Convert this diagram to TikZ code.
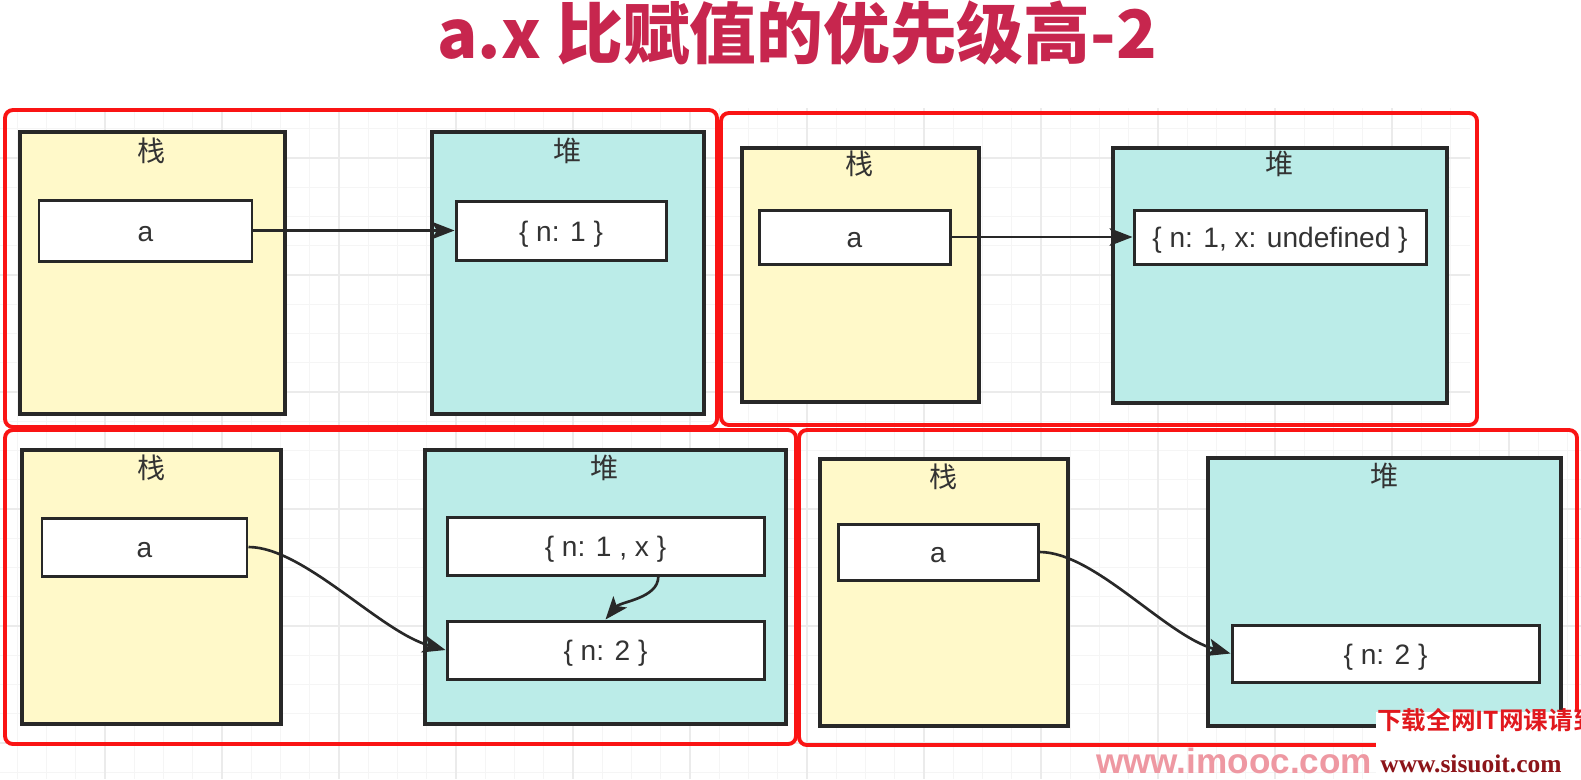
\documentclass[tikz,border=0pt]{standalone}
\usepackage{fontspec}
\setmainfont{Liberation Sans}
\newfontfamily\cjkfont{Noto Sans CJK SC}
\newfontfamily\cjkbold{Noto Sans CJK SC Bold}
\newfontfamily\cjkblack{Noto Sans CJK SC Black}
\newfontfamily\markserif{Liberation Serif}
\usepackage{tikz}
\usetikzlibrary{arrows.meta, fit}
\definecolor{titlered}{RGB}{199, 38, 78}
\definecolor{panelred}{RGB}{250, 20, 20}
\definecolor{boxedge}{RGB}{40, 40, 40}
\definecolor{textgray}{RGB}{51, 51, 51}
\definecolor{stackfill}{RGB}{255, 249, 201}
\definecolor{heapfill}{RGB}{187, 236, 232}
\definecolor{gridminor}{RGB}{245, 245, 245}
\definecolor{gridmajor}{RGB}{235, 235, 235}
\definecolor{markred}{RGB}{225, 25, 30}
\definecolor{markdark}{RGB}{140, 20, 25}
\definecolor{imoocpink}{RGB}{238, 152, 162}

\begin{document}
\begin{tikzpicture}[x=0.02cm, y=-0.02cm,
  panel/.style={draw=panelred, line width=2.2pt, rounded corners=4.5pt},
  stackbox/.style={draw=boxedge, fill=stackfill, line width=1.8pt, inner sep=0pt},
  heapbox/.style={draw=boxedge, fill=heapfill, line width=1.8pt, inner sep=0pt},
  valbox/.style={draw=boxedge, fill=white, line width=1.7pt, inner sep=0pt},
  valtext/.style={text=textgray, yshift=-2pt, font=\fontsize{16}{19}\selectfont},
  areatitle/.style={text=textgray, font=\cjkfont\fontsize{16}{19}\selectfont},
  ref/.style={-{Stealth[length=13pt, width=10pt, inset=3pt]}, draw=boxedge, line width=1.5pt}]

\useasboundingbox (0, 0) rectangle (1581, 779);
\fill[white] (0, 0) rectangle (1581, 779);

\begin{scope}
  \clip (0, 108) rectangle (1470, 430) (0, 428) rectangle (1581, 779);
  \foreach \i in {0, ..., 55} {
    \pgfmathsetmacro{\gx}{-12 + 29.25 * \i}
    \draw[gridminor, line width=0.5pt] (\gx, 100) -- (\gx, 779);
  }
  \foreach \j in {0, ..., 25} {
    \pgfmathsetmacro{\gy}{41 + 29.25 * \j}
    \draw[gridminor, line width=0.5pt] (0, \gy) -- (1581, \gy);
  }
  \foreach \i in {0, ..., 14} {
    \draw[gridmajor, line width=0.6pt] ({-12 + 117 * \i}, 100) -- +(0, 679);
  }
  \foreach \j in {0, ..., 6} {
    \draw[gridmajor, line width=0.6pt] (0, {41 + 117 * \j}) -- +(1581, 0);
  }
\end{scope}

\draw[panel] (5, 110) rectangle (717, 427);
\draw[panel] (721, 113) rectangle (1477, 425);
\draw[panel] (5, 430) rectangle (796, 744);
\draw[panel] (799, 430) rectangle (1577, 745);

% a = {n: 1}
\node[stackbox, fit={(20, 132) (285, 414)}] (stack1) {};
\node[heapbox, fit={(432, 132) (704, 414)}] (heap1) {};
\node[areatitle] at (152, 151) {栈};
\node[areatitle] at (568, 151) {堆};
\node[valbox, fit={(39, 200) (252, 261)}, label={[valtext]center:a}] (a1) {};
\node[valbox, fit={(456, 201) (666, 260)}, label={[valtext]center:{\{ n: 1 \}}}] (obj1) {};
\draw[ref] (a1) -- (obj1);

% a.x gets its slot first
\node[stackbox, fit={(742, 148) (979, 402)}] (stack2) {};
\node[heapbox, fit={(1113, 148) (1447, 403)}] (heap2) {};
\node[areatitle] at (860, 164) {栈};
\node[areatitle] at (1280, 164) {堆};
\node[valbox, fit={(759, 210) (950, 264)}, label={[valtext]center:a}] (a2) {};
\node[valbox, fit={(1134, 210) (1426, 264)}, label={[valtext]center:{\{ n: 1, x: undefined \}}}] (obj2) {};
\draw[ref] (a2) -- (obj2);

% a = {n: 2}
\node[stackbox, fit={(22, 450) (281, 724)}] (stack3) {};
\node[heapbox, fit={(425, 450) (786, 724)}] (heap3) {};
\node[areatitle] at (152, 468) {栈};
\node[areatitle] at (605, 468) {堆};
\node[valbox, fit={(42, 518) (247, 576)}, label={[valtext]center:a}] (a3) {};
\node[valbox, fit={(447, 517) (764, 575)}, label={[valtext]center:{\{ n: 1 , x \}}}] (obj3a) {};
\node[valbox, fit={(447, 621) (764, 679)}, label={[valtext]center:{\{ n: 2 \}}}] (obj3b) {};
\draw[ref] (a3.east) .. controls +(55, 0) and +(-65, -18) .. (obj3b.west);
\draw[ref] (obj3a.-30) .. controls +(0, 22) and +(15, -18) .. (obj3b.north);

\node[stackbox, fit={(820, 459) (1068, 726)}] (stack4) {};
\node[heapbox, fit={(1208, 458) (1561, 726)}] (heap4) {};
\node[areatitle] at (944, 477) {栈};
\node[areatitle] at (1385, 476) {堆};
\node[valbox, fit={(838, 524) (1038, 580)}, label={[valtext]center:a}] (a4) {};
\node[valbox, fit={(1232, 625) (1539, 682)}, label={[valtext]center:{\{ n: 2 \}}}] (obj4) {};
\draw[ref] (a4.east) .. controls +(55, 0) and +(-65, -18) .. (obj4.west);

\node[anchor=base, text=titlered, font=\cjkblack\fontsize{38}{42}\selectfont] (title) at (797, 58) {a.x 比赋值的优先级高-2};

\fill[white] (1376, 712) rectangle (1581, 779);
\node[anchor=base west, inner sep=0pt, text=markred, font=\cjkbold\fontsize{14}{16}\selectfont] (mark1) at (1377, 729) {下载全网IT网课请到};
\node[anchor=base west, inner sep=0pt, text=markdark, font=\markserif\bfseries\fontsize{14.5}{16}\selectfont] (mark2) at (1380, 772) {www.sisuoit.com};
\node[anchor=base, text=imoocpink, font=\bfseries\fontsize{20}{22}\selectfont] (imooc) at (1234, 773) {www.imooc.com};

\end{tikzpicture}
\end{document}
